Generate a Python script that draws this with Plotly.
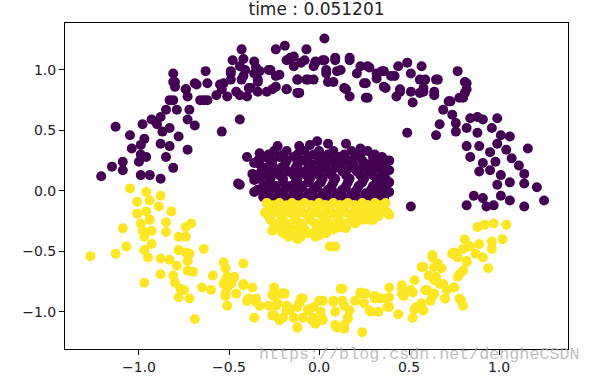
import plotly.graph_objects as go

# ---- data ----
title_text = "time : 0.051201"
tick_vals = [-1.0, -0.5, 0.0, 0.5, 1.0]
tick_text = ["−1.0", "−0.5", "0.0", "0.5", "1.0"]

# cluster 0 (purple) : outer ring upper part
purple_outer_x = [-0.43,-0.42,-0.48,-0.24,-0.19,-0.07,-0.16,-0.10,-0.03,-0.36,-0.35,-0.41,-0.33,-0.27,-0.22,-0.14,-0.12,-0.07,-0.49,-0.49,
                  -0.63,-0.81,-0.80,-0.80,-0.68,-0.62,-0.53,-0.54,-0.43,-0.39,-0.34,-0.24,-0.18,-0.11,-0.74,-0.73,-0.83,-0.79,-0.85,-0.88,
                  -0.93,-0.98,-1.13,-1.05,-0.99,-0.99,-1.00,-0.96,-0.88,-0.87,-0.83,-0.78,-0.83,-0.85,-0.81,-0.73,-0.72,-0.73,-0.69,-0.66,
                  -0.62,-0.44,-0.54,-1.09,-1.15,-1.21,-1.09,-0.99,-0.94,-0.88,-0.57,-0.51,-0.40,-0.46,-0.29,-0.90,-0.97,-1.04,
                  0.03,0.02,0.09,0.17,-0.02,0.04,0.10,0.23,0.28,0.35,0.44,0.49,0.57,0.77,-0.03,0.05,0.14,0.17,0.26,0.25,
                  0.32,0.36,0.40,0.45,0.51,0.52,0.56,0.59,0.58,0.65,0.64,0.81,0.82,0.80,0.72,0.69,0.74,0.76,0.67,0.65,
                  0.76,0.49,0.84,0.88,0.91,0.99,0.82,0.88,0.96,1.01,1.06,1.16,0.82,0.84,0.89,0.95,0.99,1.04,1.07,1.11,
                  1.14,0.89,0.95,1.01,1.06,1.21,0.98,0.91,
                  0.99,1.14,1.25,1.14,1.06,1.01,0.93,0.91,0.86,0.82,0.97,0.51,
                  -0.81,-0.81,-0.74,-0.69,-0.64,-0.55,-0.49,-0.44,-0.42,-0.44,-0.36,-0.38,-0.34,-0.28,-0.24,-0.18,-0.14,-0.08,
                  -0.02,-0.18,-0.12,-0.12,-0.06,-0.26,-0.34,
                  0.03,0.09,0.17,0.04,0.12,0.27,0.36,0.08,0.15,0.26,0.27,0.37,0.42,0.45,0.51,0.56,0.58,0.66,0.64,0.82,
                  0.81,0.73,0.78,0.21,0.32,0.43]
purple_outer_y = [1.17,1.09,1.08,1.17,1.20,1.17,1.10,1.06,1.03,1.07,1.02,1.00,0.99,1.00,0.96,1.03,0.92,0.92,0.99,0.92,
                  0.99,0.97,0.90,0.86,0.88,0.89,0.89,0.84,0.92,0.85,0.92,0.86,0.84,0.81,0.84,0.78,0.75,0.67,0.67,0.61,
                  0.59,0.55,0.53,0.46,0.38,0.30,0.24,0.28,0.39,0.49,0.52,0.45,0.37,0.28,0.19,0.34,0.67,0.59,0.54,0.75,
                  0.75,0.59,0.49,0.24,0.20,0.12,0.17,0.13,0.13,0.10,0.79,0.78,0.78,0.82,0.82,0.55,0.43,0.35,
                  1.26,1.08,1.08,1.08,1.06,1.00,0.99,1.03,1.02,0.99,1.03,1.06,1.03,0.99,0.92,0.90,0.85,0.78,0.77,0.89,
                  0.93,0.86,0.95,0.84,0.82,0.73,0.81,0.92,0.85,0.92,0.79,0.90,0.84,0.77,0.74,0.67,0.63,0.56,0.55,0.46,
                  0.49,0.48,0.60,0.61,0.59,0.60,0.52,0.48,0.52,0.46,0.45,0.35,0.37,0.28,0.37,0.32,0.39,0.34,0.27,0.21,
                  0.14,0.16,0.17,0.13,0.07,0.03,0.24,0.23,
                  0.05,0.06,-0.08,-0.13,-0.08,-0.04,-0.13,-0.06,-0.04,-0.12,-0.12,-0.13,
                  0.90,0.75,0.84,0.89,0.75,0.88,0.97,1.03,0.95,0.79,0.97,0.85,0.90,1.00,0.95,1.08,1.11,1.08,
                  1.07,0.84,0.81,0.92,0.92,0.84,0.82,
                  1.08,1.10,1.10,0.97,1.00,1.03,0.99,0.90,0.84,0.89,0.77,0.85,0.95,0.82,0.97,0.92,0.82,0.92,0.82,0.89,
                  0.81,0.74,0.77,0.97,0.97,0.78]

# cluster 0 (purple) : upper half of the inner blob
purple_inner_x = [-0.40,-0.36,-0.37,-0.33,-0.23,-0.11,-0.05,-0.45,-0.36,0.05,0.15,0.23,0.31,0.39,0.39,0.39,-0.01,0.39,0.36,0.33,
                  -0.44,-0.36,-0.31,-0.27,
                  -0.25,-0.18,-0.08,0.00,0.08,0.18,0.27,
                  -0.28,-0.20,-0.12,-0.03,0.05,0.14,0.23,0.31,
                  -0.30,-0.22,-0.14,-0.06,0.03,0.11,0.20,0.30,0.35,
                  -0.34,-0.26,-0.18,-0.09,0.00,0.08,0.16,0.24,0.32,0.37,
                  -0.33,-0.26,-0.19,-0.12,-0.04,0.04,0.12,0.19,0.27,0.34,
                  -0.29,-0.21,-0.13,-0.06,0.01,0.09,0.17,0.24,0.31,0.37,
                  -0.32,-0.25,-0.17,-0.10,-0.03,0.05,0.13,0.21,0.28,0.35,
                  -0.35,-0.29,-0.22,-0.14,-0.07,0.00,0.07,0.15,0.23,0.30,0.36,
                  -0.33,-0.27,-0.20,-0.12,-0.05,0.02,0.09,0.17,0.25,0.32,0.37,
                  -0.28,-0.20,-0.13,-0.06,0.01,0.08,0.16,0.24,0.33,
                  -0.31,-0.24,-0.16,-0.09,-0.01,0.07,0.15,0.22,0.30,0.36,
                  -0.34,-0.27,-0.19,-0.11,-0.03,0.05,0.13,0.21,0.29,0.37,
                  -0.30,-0.22,-0.14,-0.06,0.02,0.10,0.18,0.26,0.33,
                  -0.22,-0.14,-0.06,0.02,0.10,0.18,0.26,0.33,
                  -0.26,-0.18,-0.10,-0.02,0.06,0.14,0.22,0.30,0.36]
purple_inner_y = [0.28,0.23,0.14,0.31,0.37,0.37,0.38,0.06,0.09,0.39,0.39,0.35,0.25,0.25,0.17,0.07,0.41,-0.01,-0.06,0.03,
                  0.05,-0.01,-0.05,0.23,
                  0.33,0.33,0.33,0.33,0.33,0.33,0.33,
                  0.30,0.30,0.30,0.30,0.30,0.30,0.30,0.30,
                  0.28,0.28,0.28,0.28,0.28,0.28,0.28,0.28,0.28,
                  0.25,0.25,0.25,0.25,0.25,0.25,0.25,0.25,0.25,0.25,
                  0.22,0.22,0.22,0.22,0.22,0.22,0.22,0.22,0.22,0.22,
                  0.19,0.19,0.19,0.19,0.19,0.19,0.19,0.19,0.19,0.19,
                  0.16,0.16,0.16,0.16,0.16,0.16,0.16,0.16,0.16,0.16,
                  0.13,0.13,0.13,0.13,0.13,0.13,0.13,0.13,0.13,0.13,0.13,
                  0.10,0.10,0.10,0.10,0.10,0.10,0.10,0.10,0.10,0.10,0.10,
                  0.07,0.07,0.07,0.07,0.07,0.07,0.07,0.07,0.07,
                  0.04,0.04,0.04,0.04,0.04,0.04,0.04,0.04,0.04,0.04,
                  0.01,0.01,0.01,0.01,0.01,0.01,0.01,0.01,0.01,0.01,
                  -0.02,-0.02,-0.02,-0.02,-0.02,-0.02,-0.02,-0.02,-0.02,
                  -0.04,-0.04,-0.04,-0.04,-0.04,-0.04,-0.04,-0.04,
                  -0.06,-0.06,-0.06,-0.06,-0.06,-0.06,-0.06,-0.06,-0.06]

# cluster 1 (yellow) : outer ring lower part
yellow_outer_x = [0.88,0.92,0.97,1.04,1.02,0.96,0.89,0.81,0.80,0.75,0.77,0.87,0.91,0.96,0.94,0.82,0.80,0.77,0.63,0.66,
                  0.68,0.58,0.61,0.64,0.67,0.71,0.75,0.70,0.79,0.80,0.53,0.51,0.59,0.63,0.57,0.53,0.52,0.46,0.47,0.39,
                  0.39,0.39,0.44,0.34,0.31,0.26,0.23,0.25,0.29,0.33,0.20,0.17,0.16,0.24,0.13,0.13,0.08,0.02,0.09,0.14,
                  0.09,0.02,-0.03,-0.02,
                  -1.05,-0.96,-0.88,-1.01,-0.94,-0.89,-0.82,-1.01,-0.96,-0.99,-0.94,-1.09,-0.98,-0.93,-0.85,-0.85,-0.74,-0.71,-0.78,-0.74,
                  -0.97,-0.93,-1.07,-1.13,-1.27,-0.97,-0.95,-0.88,-0.83,-0.78,-0.74,-0.73,-0.64,-0.79,-0.88,-0.81,-0.73,-0.70,-0.97,-0.80,
                  -0.77,-0.78,-0.72,-0.69,-0.53,-0.52,-0.42,-0.59,-0.65,-0.60,-0.52,-0.48,-0.51,-0.42,-0.37,-0.52,-0.51,-0.46,-0.40,-0.35,
                  -0.33,-0.25,-0.25,-0.20,-0.28,-0.23,-0.36,-0.26,-0.20,-0.12,-0.16,-0.14,-0.09,-0.11,-0.06,-0.04,0.00,-0.18,
                  -0.51,-0.47,-0.53,-0.49,-0.42,-0.52,-0.39,-0.35,-0.26,-0.22,-0.19,-0.24,-0.18,-0.25,-0.22,-0.10,-0.12,-0.06,
                  -0.14,-0.09,-0.03,0.01,0.02,-0.12,0.02,-0.75,-0.72,
                  0.12,0.08,0.14,0.16,0.10,0.14,0.23,0.28,0.31,0.37,0.38,0.46,0.46,0.52,0.54,0.58,0.57,0.63,0.64,0.65,
                  0.60,0.64,0.62,0.69,0.70,0.74,0.75,0.78,0.78,0.82,0.84]
yellow_outer_y = [-0.30,-0.28,-0.27,-0.28,-0.40,-0.42,-0.44,-0.40,-0.48,-0.51,-0.55,-0.52,-0.55,-0.48,-0.64,-0.59,-0.66,-0.71,-0.55,-0.60,
                  -0.64,-0.63,-0.70,-0.74,-0.77,-0.82,-0.80,-0.89,-0.91,-0.95,-0.74,-0.82,-0.82,-0.87,-0.93,-0.98,-1.05,-0.78,-0.87,-0.80,
                  -0.88,-0.96,-1.02,-0.89,-0.87,-0.85,-0.84,-0.93,-1.00,-1.00,-0.91,-0.99,-1.05,-1.17,-0.81,-0.91,-0.91,-0.91,-1.00,-1.11,
                  -1.11,-1.06,-0.96,-1.10,
                  0.02,-0.01,-0.04,-0.09,-0.08,-0.13,-0.17,-0.19,-0.17,-0.27,-0.24,-0.31,-0.33,-0.33,-0.26,-0.34,-0.30,-0.27,-0.38,-0.38,
                  -0.38,-0.44,-0.46,-0.52,-0.54,-0.49,-0.55,-0.56,-0.57,-0.49,-0.51,-0.58,-0.48,-0.62,-0.69,-0.70,-0.66,-0.67,-0.76,-0.76,
                  -0.81,-0.88,-0.89,-1.06,-0.59,-0.64,-0.60,-0.70,-0.80,-0.82,-0.74,-0.73,-0.80,-0.78,-0.80,-0.87,-0.95,-0.85,-0.91,-0.89,
                  -0.95,-0.80,-0.87,-0.85,-0.95,-0.93,-1.05,-1.03,-1.05,-1.13,-0.98,-1.05,-0.89,-0.93,-0.99,-1.07,-0.91,-0.95,
                  -0.71,-0.71,-0.77,-0.77,-0.77,-0.85,-0.89,-0.92,-0.86,-0.85,-0.85,-0.95,-0.99,-1.03,-1.07,-0.89,-0.96,-0.98,
                  -1.05,-1.05,-1.05,-1.00,-1.07,-1.13,-0.91,-0.82,-0.52,
                  -0.81,-0.92,-0.95,-1.06,-1.13,-1.14,-0.85,-0.99,-0.89,-0.89,-0.96,-0.80,-0.85,-0.84,-0.96,-0.99,-0.63,-0.53,-0.63,-0.71,
                  -0.82,-0.85,-0.91,-0.77,-0.89,-0.52,-0.80,-0.69,-0.89,-0.58,-0.46]

# cluster 1 (yellow) : lower half of the inner blob
yellow_inner_x = [-0.02,0.06,0.14,0.23,0.29,0.35,0.39,0.28,0.21,0.15,0.10,0.02,0.00,0.06,0.09,0.04,-0.29,-0.27,-0.26,-0.22,
                  -0.18,-0.12,-0.11,-0.03,-0.14,-0.05,-0.24,-0.01,0.34,
                  -0.29,-0.22,-0.15,-0.08,0.00,0.08,0.16,0.24,0.31,0.37,
                  -0.26,-0.18,-0.11,-0.04,0.04,0.12,0.20,0.27,0.34,
                  -0.27,-0.20,-0.12,-0.04,0.04,0.12,0.20,0.28,0.36,
                  -0.30,-0.23,-0.16,-0.09,-0.01,0.07,0.15,0.23,0.31,0.38,
                  -0.28,-0.21,-0.14,-0.06,0.02,0.10,0.18,0.26,0.33,
                  -0.27,-0.20,-0.13,-0.05,0.03,0.11,0.18,0.24,0.30,
                  -0.25,-0.18,-0.10,-0.02,0.06,0.14,0.20,
                  -0.24,-0.17,-0.09,-0.01,0.06,0.12,
                  -0.22,-0.15,-0.08,0.01,0.08,
                  -0.20,-0.13,-0.06,0.04,
                  -0.17,-0.10,-0.02]
yellow_inner_y = [-0.13,-0.13,-0.12,-0.16,-0.15,-0.15,-0.20,-0.24,-0.23,-0.31,-0.30,-0.28,-0.37,-0.46,-0.46,-0.23,-0.10,-0.19,-0.33,-0.27,
                  -0.35,-0.40,-0.30,-0.35,-0.16,-0.19,-0.12,-0.12,-0.16,
                  -0.10,-0.10,-0.10,-0.10,-0.10,-0.10,-0.10,-0.10,-0.10,-0.10,
                  -0.12,-0.12,-0.12,-0.12,-0.12,-0.12,-0.12,-0.12,-0.12,
                  -0.15,-0.15,-0.15,-0.15,-0.15,-0.15,-0.15,-0.15,-0.15,
                  -0.18,-0.18,-0.18,-0.18,-0.18,-0.18,-0.18,-0.18,-0.18,-0.18,
                  -0.21,-0.21,-0.21,-0.21,-0.21,-0.21,-0.21,-0.21,-0.21,
                  -0.24,-0.24,-0.24,-0.24,-0.24,-0.24,-0.24,-0.24,-0.24,
                  -0.27,-0.27,-0.27,-0.27,-0.27,-0.27,-0.27,
                  -0.30,-0.30,-0.30,-0.30,-0.30,-0.30,
                  -0.32,-0.32,-0.32,-0.32,-0.32,
                  -0.35,-0.35,-0.35,-0.35,
                  -0.38,-0.38,-0.38]

watermark = "https://blog.csdn.net/dengheCSDN"

PURPLE = "#440154"
YELLOW = "#fde725"
msize = 10

fig = go.Figure()
fig.add_trace(go.Scatter(x=purple_outer_x + purple_inner_x, y=purple_outer_y + purple_inner_y,
                         mode="markers", marker=dict(color=PURPLE, size=msize, line=dict(width=0)),
                         showlegend=False, hoverinfo="skip"))
fig.add_trace(go.Scatter(x=yellow_outer_x + yellow_inner_x, y=yellow_outer_y + yellow_inner_y,
                         mode="markers", marker=dict(color=YELLOW, size=msize, line=dict(width=0)),
                         showlegend=False, hoverinfo="skip"))

axis_common = dict(showline=True, mirror=True, linecolor="#000", linewidth=1,
                   ticks="outside", ticklen=5, tickwidth=1, tickcolor="#000",
                   showgrid=False, zeroline=False, automargin=False,
                   tickfont=dict(family="DejaVu Sans", size=14, color="#222"))

fig.update_layout(
    width=589, height=376,
    margin=dict(l=65, r=21, t=23, b=27),
    paper_bgcolor="white", plot_bgcolor="white",
    title=dict(text=title_text, x=0.5, xref="paper", y=1 - 9/376, yref="container",
               xanchor="center", yanchor="middle",
               font=dict(family="DejaVu Sans", size=17, color="#222")),
    xaxis=dict(range=[-1.411, 1.383], tickvals=tick_vals, ticktext=tick_text, **axis_common),
    yaxis=dict(range=[-1.308, 1.388], tickvals=tick_vals, ticktext=tick_text, **axis_common),
)
fig.add_annotation(text=watermark, xref="paper", yref="paper", x=(257 - 65) / 503, y=-(355 - 349) / 326,
                   xanchor="left", yanchor="middle", showarrow=False,
                   font=dict(family="Liberation Mono", size=16.7, color="rgba(170,170,170,0.75)"))

fig.write_html("out.html", config={"displayModeBar": False},
               post_script="document.body.style.margin='0';")
